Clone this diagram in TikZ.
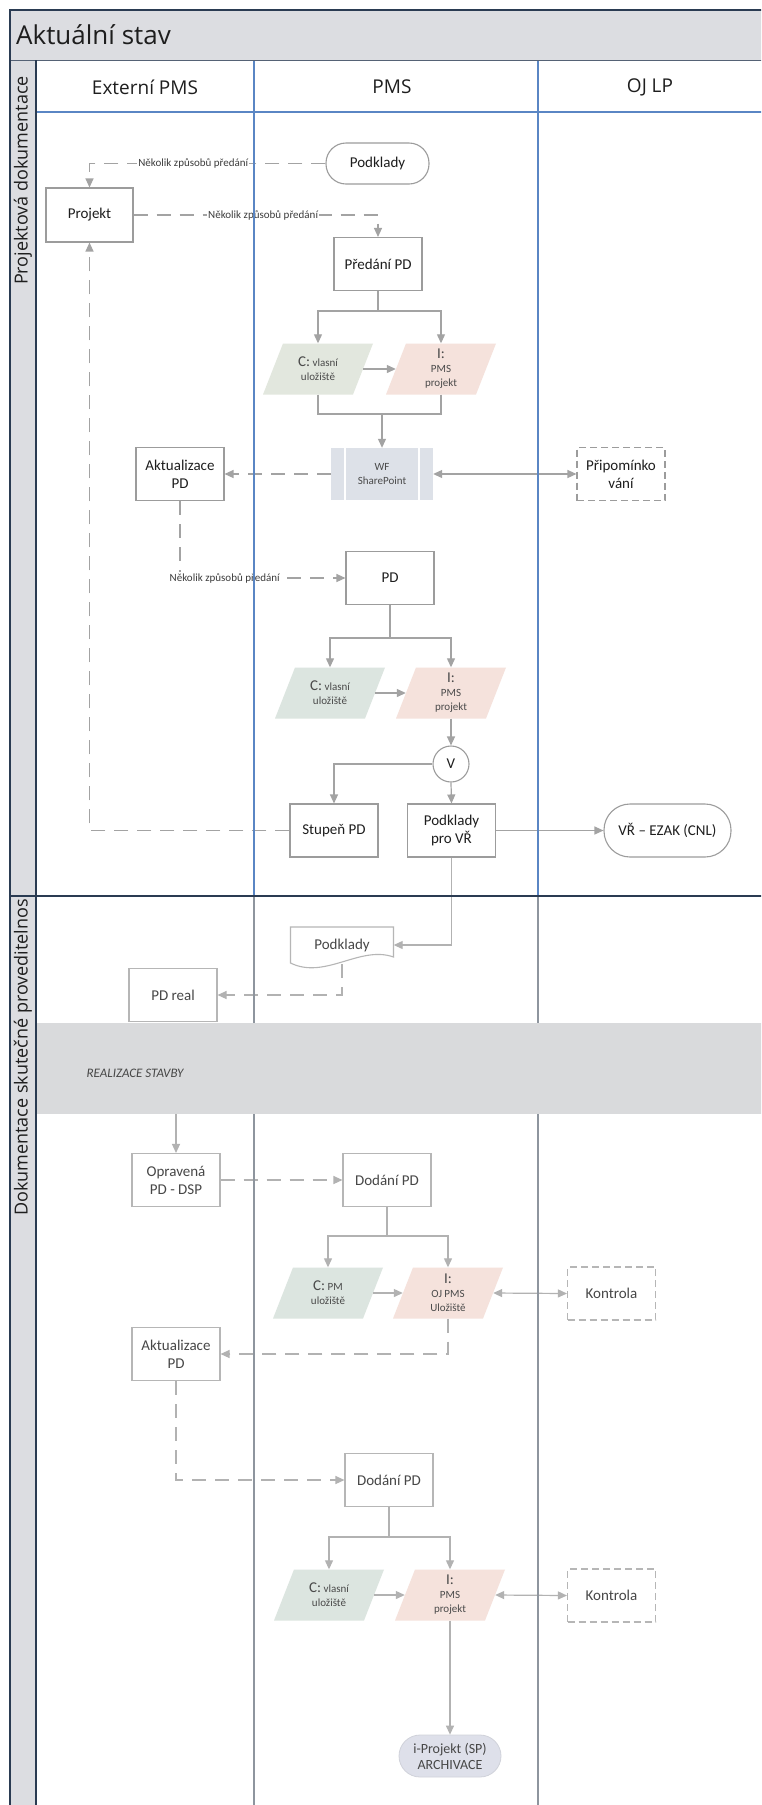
\documentclass[tikz,border=0pt]{standalone}
\usepackage{fontspec}
\setmainfont{Carlito}
\newfontfamily\osans{Open Sans}
\usetikzlibrary{arrows.meta}
\definecolor{navy}{HTML}{2A3B52}
\definecolor{lanebl}{HTML}{5A86C4}
\definecolor{lanegr}{HTML}{8E959E}
\definecolor{bandgr}{HTML}{DCDDE1}
\definecolor{realgr}{HTML}{D9DADC}
\definecolor{congr}{HTML}{A3A3A3}
\definecolor{congrb}{HTML}{B2B2B2}
\definecolor{boxgr}{HTML}{9C9C9C}
\definecolor{boxgrb}{HTML}{B6B6B6}
\definecolor{cfill}{HTML}{E2E7DE}
\definecolor{cfillb}{HTML}{DCE5E0}
\definecolor{ifill}{HTML}{F5E2DC}
\definecolor{wffill}{HTML}{DDE1E8}
\definecolor{arfill}{HTML}{DEE0EA}
\definecolor{txta}{HTML}{1E1E1E}
\definecolor{txtb}{HTML}{474747}
\definecolor{lbltxt}{HTML}{3C3C3C}
\definecolor{partxt}{HTML}{4A4A4A}

\newcommand\bigt{\fontsize{15}{15}\selectfont}

\tikzset{
  box/.style={draw=boxgr, line width=1.1pt, fill=white, minimum width=88pt, minimum height=53pt,
    align=center, inner sep=1pt, text=txta, font=\fontsize{15}{18}\selectfont},
  boxb/.style={box, draw=boxgrb, text=txtb},
  term/.style={box, rounded corners=20pt, minimum height=41pt},
  dashbox/.style={box, dash pattern=on 7pt off 4pt},
  dashboxb/.style={boxb, dash pattern=on 7pt off 4pt},
  paranode/.style={minimum width=90pt, minimum height=51pt, inner sep=0pt, align=center,
    text=partxt, font=\fontsize{11}{14}\selectfont},
  wfbox/.style={fill=wffill, minimum width=102pt, minimum height=52pt, align=center,
    inner sep=1pt, text=partxt, font=\fontsize{11}{14}\selectfont},
  vcirc/.style={circle, draw=boxgr, line width=1.1pt, fill=white, minimum size=36pt,
    inner sep=0pt, text=txta, font=\fontsize{15}{18}\selectfont},
  docnode/.style={minimum width=103pt, minimum height=38pt, inner sep=0pt, text=txtb,
    font=\fontsize{15}{18}\selectfont},
  archbox/.style={draw=arfill!85!gray, line width=0.8pt, fill=arfill, rounded corners=21pt,
    minimum width=102pt, minimum height=42pt, align=center, inner sep=1pt, text=txtb,
    font=\fontsize{14}{16}\selectfont},
  conn/.style={draw=congr, line width=1.2pt, -{Triangle[length=9pt,width=8pt]}},
  connb/.style={conn, draw=congrb},
  dblconn/.style={draw=congr, line width=1.2pt, {Triangle[length=9pt,width=8pt]}-{Triangle[length=9pt,width=8pt]}},
  dblconnb/.style={dblconn, draw=congrb},
  dconn/.style={conn, dash pattern=on 14pt off 9pt},
  dconnb/.style={connb, dash pattern=on 14pt off 9pt},
  plainln/.style={draw=congr, line width=1.2pt},
  plainlnb/.style={draw=congrb, line width=1.2pt},
  lbl/.style={fill=white, inner xsep=1pt, inner ysep=1pt, text=lbltxt, font=\fontsize{11}{13}\selectfont},
}

\newcommand\mkpara[5]{%
  \fill[#4] (#2-35,#3-25.5) -- (#2+55,#3-25.5) -- (#2+35,#3+25.5) -- (#2-55,#3+25.5) -- cycle;
  \node[paranode] (#1) at (#2,#3) {#5};
}

\begin{document}
\begin{tikzpicture}[x=1pt,y=-1pt]
\clip (0,0) rectangle (761,1805);
\fill[white] (0,0) rectangle (761,1805);

% ---------- frame ----------
\fill[bandgr] (10,10) rectangle (775,60);
\fill[bandgr] (10,60) rectangle (36,1815);
\node[anchor=west, font=\osans\fontsize{26}{30}\selectfont, text=txta, inner sep=0pt] (title) at (16,35) {Aktuální stav};
\node[font=\osans\fontsize{19}{22}\selectfont, text=txta] (h1) at (145,87) {Externí PMS};
\node[font=\osans\fontsize{19}{22}\selectfont, text=txta] (h2) at (392,87) {PMS};
\node[font=\osans\fontsize{19}{22}\selectfont, text=txta] (h3) at (650,87) {OJ LP};
\node[rotate=90, anchor=east, font=\osans\fontsize{18}{20}\selectfont, text=txta, inner sep=0pt] (pool1) at (23,76) {Projektová dokumentace};
\node[rotate=90, anchor=east, font=\osans\fontsize{18}{20}\selectfont, text=txta, inner sep=0pt] (pool2) at (23,899) {Dokumentace skutečné proveditelnos};

% ---------- pool 1 ----------
\node[term, minimum width=103pt] (pod) at (377.5,163.5) {Podklady};
\node[box, minimum width=87pt, minimum height=54pt] (proj) at (89.5,215) {Projekt};
\node[box] (pred) at (378,264) {Předání PD};
\mkpara{c1}{318}{369}{cfill}{{\bigt C:} vlasní\\uložiště}
\mkpara{i1}{441}{369}{ifill}{{\bigt I:}\\PMS\\projekt}
\node[wfbox] (wf) at (382,474) {WF\\SharePoint};
\draw[white, line width=1.6pt] ([xshift=14pt]wf.north west) -- ([xshift=14pt]wf.south west);
\draw[white, line width=1.6pt] ([xshift=-14pt]wf.north east) -- ([xshift=-14pt]wf.south east);
\node[box] (akt1) at (180,474) {Aktualizace\\PD};
\node[dashbox] (pri) at (621,474) {Připomínko\\vání};
\node[box] (pd) at (390,578) {PD};
\mkpara{c2}{330}{693}{cfillb}{{\bigt C:} vlasní\\uložiště}
\mkpara{i2}{451}{693}{ifill}{{\bigt I:}\\PMS\\projekt}
\node[vcirc] (v) at (451,764) {V};
\node[box] (stup) at (334,830.5) {Stupeň PD};
\node[box] (pvr) at (451.5,830.5) {Podklady\\pro VŘ};
\node[box, rounded corners=26pt, minimum width=127pt] (vr) at (667.5,830.5) {VŘ – EZAK (CNL)};
\coordinate (m1) at (382,414);

\draw[dconn] (pod.west) -| node[lbl, pos=0.28] {Několik způsobů předání} (proj.north);
\draw[dconn] (proj.east) -| node[lbl, pos=0.265] {Několik způsobů předání} (pred.north);
\draw[conn] (pred.south) -- ++(0,20) -| (c1.north);
\draw[conn] (pred.south) -- ++(0,20) -| (i1.north);
\draw[conn] (c1.east) -- (i1.west);
\draw[plainln] (c1.south) |- (m1);
\draw[plainln] (i1.south) |- (m1);
\draw[conn] (m1) -- (wf.north);
\draw[dconn] (wf.west) -- (akt1.east);
\draw[dblconn] (wf.east) -- (pri.west);
\draw[dconn] (akt1.south) |- node[lbl, pos=0.635] {Několik způsobů předání} (pd.west);
\draw[conn] (pd.south) -- ++(0,33) -| (c2.north);
\draw[conn] (pd.south) -- ++(0,33) -| (i2.north);
\draw[conn] (c2.east) -- (i2.west);
\draw[conn] (i2.south) -- (v.north);
\draw[conn] (v.west) -| (stup.north);
\draw[conn] (v.south) -- (pvr.north);
\draw[dconn] (stup.west) -| (proj.south);
\draw[conn] (pvr.east) -- (vr.west);

% ---------- pool 2 ----------
\draw[boxgrb, line width=1.1pt, fill=white] (290.5,927) -- (393.5,927) -- (393.5,957)
  .. controls (360,945) and (325,980) .. (290.5,963) -- cycle;
\node[docnode] (doc) at (342,945) {Podklady};
\node[boxb] (pdr) at (173,995) {PD real};
\draw[connb] (pvr.south) |- (doc.east);
\draw[dconnb] (doc.south) |- (pdr.east);

\fill[realgr] (36,1023) rectangle (775,1114);
\node[anchor=west, font=\itshape\fontsize{13}{15}\selectfont, text=txtb] (rs) at (83,1073) {REALIZACE STAVBY};
\coordinate (bout) at (176,1114);

\node[boxb] (opr) at (176,1180) {Opravená\\PD - DSP};
\node[boxb] (dod1) at (387,1180) {Dodání PD};
\mkpara{c3}{328}{1293}{cfillb}{{\bigt C:} PM\\uložiště}
\mkpara{i3}{448}{1293}{ifill}{{\bigt I:}\\OJ PMS\\Uložiště}
\node[dashboxb] (kon1) at (611.5,1293.5) {Kontrola};
\node[boxb] (akt2) at (176,1354) {Aktualizace\\PD};
\node[boxb] (dod2) at (389,1480) {Dodání PD};
\mkpara{c4}{329}{1595}{cfillb}{{\bigt C:} vlasní\\uložiště}
\mkpara{i4}{450}{1595}{ifill}{{\bigt I:}\\PMS\\projekt}
\node[dashboxb] (kon2) at (611.5,1595.5) {Kontrola};
\node[archbox] (arch) at (450,1756) {i-Projekt (SP)\\ARCHIVACE};

\draw[connb] (bout) -- (opr.north);
\draw[dconnb] (opr.east) -- (dod1.west);
\draw[connb] (dod1.south) -- ++(0,29) -| (c3.north);
\draw[connb] (dod1.south) -- ++(0,29) -| (i3.north);
\draw[connb] (c3.east) -- (i3.west);
\draw[dblconnb] (i3.east) -- (kon1.west);
\draw[dconnb] (i3.south) |- (akt2.east);
\draw[dconnb] (akt2.south) |- (dod2.west);
\draw[connb] (dod2.south) -- ++(0,30) -| (c4.north);
\draw[connb] (dod2.south) -- ++(0,30) -| (i4.north);
\draw[connb] (c4.east) -- (i4.west);
\draw[dblconnb] (i4.east) -- (kon2.west);
\draw[connb] (i4.south) -- (arch.north);

% ---------- lane lines on top ----------
\draw[lanebl, line width=1.1pt] (254,60) -- (254,896);
\draw[lanebl, line width=1.1pt] (538,60) -- (538,896);
\draw[lanegr, line width=1.1pt] (254,896) -- (254,1023) (254,1114) -- (254,1810);
\draw[lanegr, line width=1.1pt] (538,896) -- (538,1023) (538,1114) -- (538,1810);
\draw[lanebl, line width=1.1pt] (36,112) -- (775,112);
\draw[navy!80, line width=1pt] (10,60) -- (775,60);
\draw[navy, line width=1.6pt] (10,896) -- (775,896);
\draw[navy, line width=1.6pt] (36,60) -- (36,1810);
\draw[navy, line width=1.8pt] (10,1810) -- (10,10) -- (775,10);
\end{tikzpicture}
\end{document}
